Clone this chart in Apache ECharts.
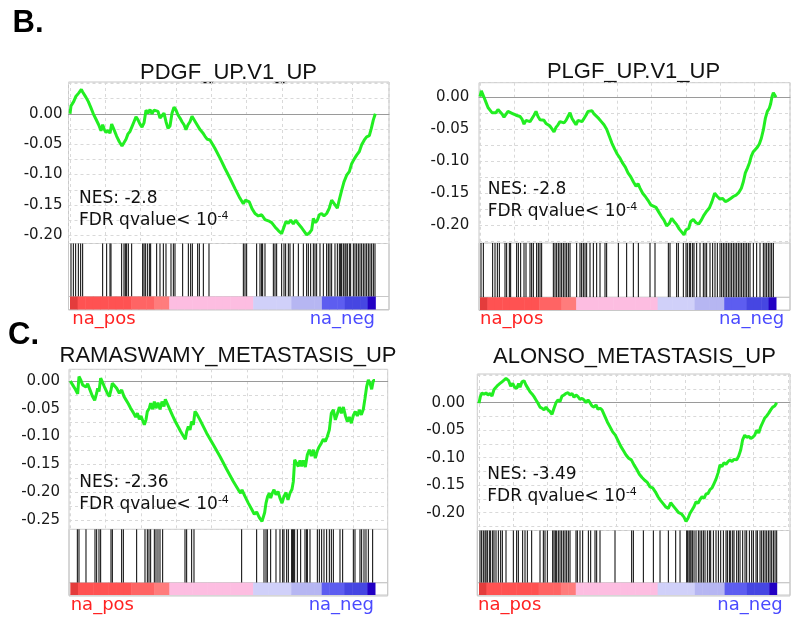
<!DOCTYPE html>
<html><head><meta charset="utf-8">
<script src="https://cdn.jsdelivr.net/npm/echarts@6/dist/echarts.min.js"></script>
<style>html,body{margin:0;padding:0;background:#fff}#c{width:793px;height:622px}</style>
</head><body><div id="c"></div>
<script>
// ---------------- DATA ----------------
const panelTitles = ['PDGF_UP.V1_UP', 'PLGF_UP.V1_UP', 'RAMASWAMY_METASTASIS_UP', 'ALONSO_METASTASIS_UP'];
const nesLabels = ['NES: -2.8', 'NES: -2.8', 'NES: -2.36', 'NES: -3.49'];
const listSizes = [916, 888, 914, 893];
const yTickLabels = ['0.00', '-0.05', '-0.10', '-0.15', '-0.20', '-0.25'];

// running enrichment score: [rank, ES]
const pdgfRunningES = [[0,0],[3,0.013],[7,0.011],[11,0.020],[15,0.023],[18,0.029],[22,0.027],[26,0.034],[30,0.036],[34,0.040],[38,0.036],[42,0.034],[48,0.027],[55,0.020],[62,0.011],[70,0.000],[78,-0.009],[86,-0.018],[93,-0.028],[98,-0.018],[103,-0.026],[108,-0.031],[114,-0.027],[120,-0.032],[125,-0.017],[132,-0.026],[140,-0.037],[148,-0.046],[156,-0.053],[162,-0.050],[168,-0.042],[174,-0.033],[180,-0.029],[186,-0.021],[192,-0.013],[198,-0.005],[204,-0.010],[210,-0.017],[216,-0.022],[222,-0.015],[228,0.006],[234,0.001],[240,0.007],[246,0.000],[252,0.006],[258,0.009],[264,0.004],[270,-0.007],[276,-0.005],[282,0.001],[288,-0.013],[294,-0.024],[300,-0.020],[306,0.001],[312,0.011],[318,0.006],[324,-0.002],[330,-0.007],[336,-0.013],[342,-0.018],[348,-0.026],[354,-0.018],[360,-0.013],[366,-0.004],[372,-0.006],[378,-0.015],[384,-0.018],[390,-0.026],[398,-0.031],[405,-0.037],[412,-0.042],[420,-0.043],[435,-0.057],[450,-0.073],[465,-0.090],[480,-0.106],[495,-0.123],[510,-0.139],[520,-0.148],[526,-0.142],[532,-0.139],[538,-0.145],[546,-0.156],[555,-0.164],[565,-0.168],[575,-0.166],[585,-0.174],[595,-0.176],[605,-0.179],[615,-0.186],[625,-0.192],[635,-0.197],[642,-0.186],[648,-0.177],[655,-0.180],[662,-0.175],[670,-0.181],[677,-0.175],[685,-0.181],[693,-0.186],[701,-0.192],[710,-0.199],[718,-0.196],[725,-0.191],[730,-0.172],[736,-0.179],[742,-0.175],[748,-0.166],[755,-0.164],[762,-0.168],[770,-0.164],[778,-0.155],[785,-0.142],[793,-0.148],[802,-0.155],[808,-0.141],[815,-0.126],[822,-0.112],[830,-0.101],[838,-0.095],[845,-0.082],[852,-0.075],[860,-0.068],[868,-0.062],[875,-0.051],[883,-0.043],[890,-0.038],[898,-0.036],[904,-0.024],[910,-0.010],[916,0.000]];

const plgfRunningES = [[0,0.001],[4,0.010],[8,0.007],[12,0.000],[18,-0.008],[24,-0.016],[30,-0.020],[36,-0.024],[42,-0.021],[48,-0.024],[54,-0.019],[60,-0.021],[66,-0.026],[72,-0.031],[78,-0.028],[84,-0.022],[90,-0.019],[96,-0.025],[102,-0.022],[108,-0.028],[114,-0.025],[120,-0.030],[126,-0.034],[132,-0.042],[138,-0.036],[144,-0.033],[150,-0.038],[156,-0.033],[162,-0.028],[168,-0.022],[174,-0.030],[180,-0.035],[186,-0.033],[192,-0.036],[198,-0.041],[204,-0.042],[210,-0.045],[216,-0.048],[222,-0.054],[228,-0.047],[234,-0.043],[240,-0.038],[246,-0.035],[252,-0.040],[258,-0.036],[264,-0.030],[270,-0.024],[276,-0.033],[282,-0.038],[288,-0.043],[294,-0.036],[300,-0.034],[306,-0.038],[312,-0.033],[318,-0.028],[324,-0.022],[330,-0.025],[336,-0.021],[342,-0.026],[348,-0.028],[356,-0.033],[364,-0.038],[372,-0.043],[380,-0.050],[388,-0.061],[396,-0.072],[404,-0.081],[412,-0.089],[420,-0.095],[428,-0.103],[436,-0.109],[444,-0.118],[452,-0.124],[460,-0.132],[468,-0.139],[474,-0.135],[480,-0.142],[488,-0.150],[496,-0.155],[504,-0.161],[512,-0.168],[520,-0.170],[528,-0.172],[536,-0.179],[544,-0.186],[552,-0.192],[560,-0.201],[568,-0.197],[575,-0.189],[582,-0.194],[590,-0.199],[598,-0.206],[606,-0.211],[612,-0.215],[618,-0.207],[626,-0.205],[632,-0.194],[640,-0.191],[648,-0.196],[656,-0.198],[664,-0.192],[672,-0.184],[680,-0.178],[688,-0.173],[696,-0.163],[704,-0.150],[712,-0.155],[720,-0.159],[728,-0.158],[736,-0.163],[744,-0.161],[752,-0.158],[760,-0.155],[768,-0.153],[776,-0.149],[784,-0.142],[790,-0.132],[796,-0.118],[802,-0.111],[808,-0.103],[814,-0.092],[820,-0.085],[826,-0.082],[832,-0.078],[838,-0.073],[844,-0.064],[850,-0.051],[856,-0.033],[862,-0.022],[868,-0.017],[872,-0.010],[876,0.001],[880,0.007],[884,0.004],[888,0.000]];

const ramaswamyRunningES = [[0,0],[7,-0.007],[15,-0.015],[22,-0.023],[26,0.008],[32,0.001],[37,-0.007],[42,-0.004],[47,-0.011],[52,-0.005],[59,-0.016],[66,-0.027],[73,-0.035],[79,-0.022],[82,-0.013],[86,-0.019],[91,0.005],[97,-0.003],[104,-0.013],[111,-0.022],[117,-0.028],[122,-0.016],[126,-0.004],[131,-0.002],[139,-0.013],[147,-0.022],[154,-0.016],[161,-0.028],[167,-0.034],[174,-0.041],[181,-0.049],[189,-0.057],[196,-0.065],[201,-0.058],[207,-0.069],[212,-0.063],[217,-0.071],[222,-0.079],[227,-0.070],[231,-0.055],[237,-0.049],[241,-0.040],[247,-0.051],[252,-0.037],[257,-0.049],[263,-0.039],[269,-0.051],[275,-0.037],[281,-0.046],[285,-0.033],[291,-0.041],[299,-0.052],[307,-0.063],[315,-0.073],[323,-0.082],[331,-0.091],[339,-0.099],[345,-0.105],[349,-0.091],[354,-0.082],[359,-0.088],[364,-0.073],[369,-0.079],[374,-0.055],[379,-0.059],[389,-0.070],[409,-0.094],[429,-0.115],[449,-0.136],[469,-0.159],[489,-0.181],[504,-0.196],[511,-0.202],[515,-0.196],[524,-0.208],[534,-0.220],[544,-0.231],[552,-0.240],[559,-0.236],[567,-0.246],[575,-0.253],[579,-0.255],[583,-0.237],[587,-0.220],[592,-0.208],[597,-0.202],[601,-0.211],[606,-0.202],[611,-0.196],[617,-0.205],[623,-0.199],[629,-0.211],[635,-0.220],[641,-0.208],[647,-0.201],[653,-0.214],[659,-0.202],[665,-0.195],[669,-0.181],[673,-0.142],[679,-0.143],[684,-0.154],[689,-0.143],[694,-0.154],[699,-0.143],[705,-0.155],[711,-0.133],[717,-0.124],[723,-0.135],[729,-0.124],[735,-0.139],[741,-0.126],[747,-0.118],[753,-0.112],[759,-0.105],[765,-0.109],[771,-0.100],[777,-0.088],[783,-0.058],[789,-0.052],[795,-0.070],[801,-0.059],[807,-0.047],[813,-0.058],[819,-0.047],[825,-0.062],[831,-0.073],[837,-0.065],[843,-0.076],[849,-0.062],[855,-0.055],[861,-0.063],[867,-0.052],[873,-0.061],[879,-0.051],[884,-0.031],[889,-0.010],[894,0.002],[899,-0.004],[904,-0.015],[909,0.001],[914,0.001]];

const alonsoRunningES = [[0,-0.001],[4,0.011],[9,0.018],[15,0.015],[21,0.018],[27,0.014],[33,0.017],[39,0.012],[45,0.024],[51,0.028],[57,0.032],[63,0.035],[69,0.038],[75,0.041],[81,0.044],[85,0.047],[89,0.040],[95,0.030],[101,0.035],[107,0.028],[113,0.026],[119,0.035],[123,0.028],[129,0.038],[135,0.040],[141,0.032],[147,0.026],[153,0.020],[159,0.016],[165,0.011],[171,0.005],[177,-0.001],[183,-0.008],[189,-0.010],[195,-0.013],[201,-0.008],[207,-0.013],[213,-0.016],[219,-0.021],[225,-0.010],[231,0.000],[237,0.005],[243,0.002],[249,0.012],[255,0.014],[261,0.017],[267,0.018],[273,0.014],[279,0.017],[285,0.010],[291,0.014],[297,0.011],[303,0.006],[309,0.008],[315,0.005],[321,0.000],[327,0.005],[333,0.000],[339,-0.006],[345,-0.008],[351,-0.004],[357,-0.012],[363,-0.010],[369,-0.013],[377,-0.024],[385,-0.035],[393,-0.044],[401,-0.053],[409,-0.059],[417,-0.069],[425,-0.079],[433,-0.087],[441,-0.095],[449,-0.101],[457,-0.104],[465,-0.113],[473,-0.121],[481,-0.130],[489,-0.136],[497,-0.141],[505,-0.145],[513,-0.153],[521,-0.155],[529,-0.162],[537,-0.171],[545,-0.178],[553,-0.184],[561,-0.190],[568,-0.192],[575,-0.182],[583,-0.188],[591,-0.194],[599,-0.200],[607,-0.202],[615,-0.208],[621,-0.216],[627,-0.210],[633,-0.201],[639,-0.195],[645,-0.189],[651,-0.180],[657,-0.183],[663,-0.176],[669,-0.171],[675,-0.174],[681,-0.166],[687,-0.165],[693,-0.158],[699,-0.155],[705,-0.147],[711,-0.139],[717,-0.128],[723,-0.113],[729,-0.116],[735,-0.109],[741,-0.112],[747,-0.107],[753,-0.104],[759,-0.107],[765,-0.103],[773,-0.104],[779,-0.097],[785,-0.086],[791,-0.067],[797,-0.059],[803,-0.063],[809,-0.061],[815,-0.065],[821,-0.063],[827,-0.059],[833,-0.050],[839,-0.055],[845,-0.044],[851,-0.036],[857,-0.028],[863,-0.024],[869,-0.019],[875,-0.013],[881,-0.008],[887,-0.006],[893,0.000]];

// positions (ranks) of gene-set members in the ranked list
const pdgfHits = [3,10,17,25,32,38,98,110,120,123,155,162,166,170,175,185,218,222,226,232,238,242,260,270,280,288,303,310,315,338,355,362,367,383,388,400,417,520,525,530,560,570,575,578,585,610,615,620,635,642,647,655,660,670,685,700,710,715,722,730,735,740,750,760,770,775,780,785,795,802,808,812,815,820,825,828,832,838,842,850,855,860,865,870,875,880,885,890,895,900,905,910,915];
const plgfHits = [3,10,38,45,52,58,75,80,88,92,110,115,122,132,138,150,155,160,170,175,180,185,220,225,230,235,240,245,250,255,260,265,270,290,300,305,310,315,320,330,340,350,360,375,380,415,440,460,475,510,525,565,570,590,595,610,618,622,628,632,638,642,650,660,670,675,680,690,698,705,712,720,725,730,735,740,745,750,755,760,765,770,775,780,785,790,795,800,805,810,820,830,840,850,855,860,865,870,875,880];
const ramaswamyHits = [21,26,47,74,79,86,91,122,126,154,159,199,224,231,236,241,252,257,263,269,277,344,349,364,371,514,559,581,587,591,601,617,629,637,641,649,654,664,667,669,673,681,691,704,709,711,719,741,747,754,761,769,777,783,789,809,817,849,854,869,874,881,887,894,907];
const alonsoHits = [3,8,13,18,21,25,31,35,41,45,51,58,65,70,81,103,113,118,131,138,145,158,183,193,198,205,221,225,229,233,238,243,248,253,258,263,268,273,291,295,303,311,328,335,348,353,363,408,458,463,493,523,543,568,590,603,623,626,630,633,636,640,645,651,658,663,668,673,678,685,691,695,703,711,718,725,733,741,745,751,755,761,765,773,778,783,791,798,803,811,818,823,831,835,843,848,853,858,863,868,873,878,883,888,893];

// ranking metric, 40 equal bins along the ranked list (na_pos -> na_neg)
const rankMetricBins = [0.9,0.5,0.5,0.5,0.5,0.5,0.5,0.5,0.3,0.3,0.3,0.15,0.15,0.05,0.05,0.05,0.05,0.05,0.05,0.05,0.05,0.05,0.05,0.05,-0.04,-0.04,-0.04,-0.04,-0.04,-0.12,-0.12,-0.12,-0.12,-0.3,-0.3,-0.3,-0.5,-0.5,-0.5,-0.9];

const runningES = [pdgfRunningES, plgfRunningES, ramaswamyRunningES, alonsoRunningES];
const hitLists = [pdgfHits, plgfHits, ramaswamyHits, alonsoHits];

// ---------------- LAYOUT ----------------
const layout = [
  {frame:[68.5,82,389,310], x0:70, x1:375.33, zeroY:113.8, scale:608, lineBottom:243.5, gradTop:296.5, gradBottom:309.5, step:106, margin:6,
   titleX:228.5, titleBase:80, nesX:79, nesBase:204, fdrBase:226, posX:72.3, negX:375, labBase:325.2},
  {frame:[479,82.7,790,310.5], x0:480, x1:776, zeroY:97.3, scale:640, lineBottom:243, gradTop:297.3, gradBottom:310, step:103, margin:9.7,
   titleX:633.5, titleBase:78.3, nesX:487.7, nesBase:195, fdrBase:216.7, posX:480, negX:784.3, labBase:325.2},
  {frame:[69,369.3,387.7,596], x0:70.33, x1:375, zeroY:381, scale:555, lineBottom:529.3, gradTop:582.7, gradBottom:595, step:106, margin:9,
   titleX:228, titleBase:362.3, nesX:79.3, nesBase:488.3, fdrBase:510, posX:70.7, negX:374, labBase:610.8},
  {frame:[477.3,374,790,596], x0:479, x1:776.7, zeroY:402.7, scale:550, lineBottom:530.5, gradTop:582.7, gradBottom:595, step:103, margin:12.3,
   titleX:634.5, titleBase:363.3, nesX:487.3, nesBase:480, fdrBase:501.7, posX:478, negX:782.7, labBase:610.8}
];

const SANS = 'DejaVu Sans';
const ARIAL = 'Liberation Sans';
const grids = [], xAxes = [], yAxes = [], series = [], graphics = [], gradSeriesIdx = [];
const mid = (base, fs) => base - 0.31 * fs;

layout.forEach((L, i) => {
  const [fl, ft, fr, fb] = L.frame;
  const n = listSizes[i];
  const perPx = n / (L.x1 - L.x0);
  const xMin = -(L.x0 - fl) * perPx, xMax = (fr - L.x0) * perPx;
  const yMax = (L.zeroY - ft) / L.scale, yMin = -(L.lineBottom - L.zeroY) / L.scale;
  const g = grids.length;
  // frame
  grids.push({left: fl, top: ft, width: fr - fl, height: fb - ft, show: true, borderColor: '#c8c8c8', borderWidth: 1, backgroundColor: 'transparent'});
  xAxes.push({gridIndex: g, type: 'value', show: false, min: 0, max: 1});
  yAxes.push({gridIndex: g, type: 'value', show: false, min: 0, max: 1});
  // running ES plot
  grids.push({left: fl, top: ft, width: fr - fl, height: L.lineBottom - ft, show: false});
  xAxes.push({gridIndex: g + 1, type: 'value', min: xMin, max: xMax, minInterval: L.step, maxInterval: L.step,
    axisLine: {show: true, onZero: true, lineStyle: {color: '#9a9a9a', width: 1}},
    axisTick: {show: false}, axisLabel: {show: false},
    splitLine: {show: true, lineStyle: {color: '#d9d9d9', width: 1, type: [3, 3]}}});
  yAxes.push({gridIndex: g + 1, type: 'value', min: yMin, max: yMax, minInterval: 0.025, maxInterval: 0.025,
    axisLine: {show: false}, axisTick: {show: false},
    splitLine: {show: true, lineStyle: {color: '#d9d9d9', width: 1, type: [3, 3]}},
    axisLabel: {margin: L.margin, fontFamily: SANS, fontSize: 15, color: '#1a1a1a',
      formatter: v => { const k = Math.round(v * 1000); if (k > 0 || k % 50 !== 0) return ''; const idx = -k / 50; return yTickLabels[idx] || ''; }}});
  series.push({type: 'line', xAxisIndex: g + 1, yAxisIndex: g + 1, data: runningES[i], showSymbol: false, symbol: 'none',
    lineStyle: {color: '#22ee22', width: 3}, silent: true, z: 5});
  // barcode
  grids.push({left: fl, top: L.lineBottom, width: fr - fl, height: L.gradTop - L.lineBottom, show: true, borderColor: '#c8c8c8', borderWidth: 1, backgroundColor: 'transparent'});
  xAxes.push({gridIndex: g + 2, type: 'value', show: false, min: xMin, max: xMax});
  yAxes.push({gridIndex: g + 2, type: 'value', show: false, min: 0, max: 1});
  series.push({type: 'custom', xAxisIndex: g + 2, yAxisIndex: g + 2, silent: true,
    data: hitLists[i].map(r => [r, 1]), encode: {x: 0, y: 1},
    renderItem: (params, api) => {
      const p0 = api.coord([api.value(0), 0]);
      const p1 = api.coord([api.value(0), 1]);
      return {type: 'line', shape: {x1: p0[0], y1: p0[1], x2: p1[0], y2: p1[1]}, style: {stroke: '#000', lineWidth: 1}};
    }});
  // ranking metric colour strip
  grids.push({left: fl, top: L.gradTop, width: fr - fl, height: L.gradBottom - L.gradTop, show: true, borderColor: '#c8c8c8', borderWidth: 1, backgroundColor: 'transparent'});
  xAxes.push({gridIndex: g + 3, type: 'value', show: false, min: xMin, max: xMax});
  yAxes.push({gridIndex: g + 3, type: 'value', show: false, min: 0, max: 1});
  gradSeriesIdx.push(series.length);
  const nb = rankMetricBins.length;
  series.push({type: 'custom', xAxisIndex: g + 3, yAxisIndex: g + 3, silent: true,
    data: rankMetricBins.map((m, k) => [k * n / nb, (k + 1) * n / nb, m]), encode: {x: [0, 1], y: 2},
    renderItem: (params, api) => {
      const a = api.coord([api.value(0), 1]);
      const b = api.coord([api.value(1), 0]);
      return {type: 'rect', shape: {x: a[0], y: a[1], width: b[0] - a[0] + 0.5, height: b[1] - a[1]}, style: {fill: api.visual('color')}};
    }});
  // texts
  graphics.push({type: 'text', x: L.titleX, y: mid(L.titleBase, 22), style: {text: panelTitles[i], fontFamily: ARIAL, fontSize: 22, fill: '#111', align: 'center', verticalAlign: 'middle', textAlign: 'center', textVerticalAlign: 'middle'}});
  graphics.push({type: 'text', x: L.nesX, y: mid(L.nesBase, 17), z: 10, style: {text: nesLabels[i], fontFamily: SANS, fontSize: 17, fill: '#111', align: 'left', verticalAlign: 'middle', textAlign: 'left', textVerticalAlign: 'middle'}});
  graphics.push({type: 'text', x: L.nesX, y: mid(L.fdrBase, 17), z: 10, style: {text: '{m|FDR qvalue< 10}{s|-4}', fill: '#111', align: 'left', verticalAlign: 'middle', textAlign: 'left', textVerticalAlign: 'middle',
    rich: {m: {fontFamily: SANS, fontSize: 17, lineHeight: 20, fill: '#111'}, s: {fontFamily: SANS, fontSize: 11, lineHeight: 20, verticalAlign: 'top', fill: '#111'}}}});
  graphics.push({type: 'text', x: L.posX, y: mid(L.labBase, 18), style: {text: 'na_pos', fontFamily: SANS, fontSize: 18, fill: '#ff2222', align: 'left', verticalAlign: 'middle', textAlign: 'left', textVerticalAlign: 'middle'}});
  graphics.push({type: 'text', x: L.negX, y: mid(L.labBase, 18), style: {text: 'na_neg', fontFamily: SANS, fontSize: 18, fill: '#4a4aff', align: 'right', verticalAlign: 'middle', textAlign: 'right', textVerticalAlign: 'middle'}});
});

graphics.push({type: 'text', x: 12.5, y: mid(33.3, 31), style: {text: 'B.', fontFamily: ARIAL, fontWeight: 'bold', fontSize: 31, fill: '#000', align: 'left', verticalAlign: 'middle', textAlign: 'left', textVerticalAlign: 'middle'}});
graphics.push({type: 'text', x: 8, y: mid(345, 31), style: {text: 'C.', fontFamily: ARIAL, fontWeight: 'bold', fontSize: 31, fill: '#000', align: 'left', verticalAlign: 'middle', textAlign: 'left', textVerticalAlign: 'middle'}});

const option = {
  animation: false,
  backgroundColor: '#ffffff',
  textStyle: {fontFamily: SANS},
  grid: grids.map(gr => Object.assign({outerBoundsMode: 'none', containLabel: false}, gr)),
  xAxis: xAxes,
  yAxis: yAxes,
  visualMap: {type: 'piecewise', show: false, dimension: 2, seriesIndex: gradSeriesIdx,
    pieces: [
      {gt: 0.7, color: '#e43c3c'},
      {gt: 0.35, lte: 0.7, color: '#ff5252'},
      {gt: 0.2, lte: 0.35, color: '#ff6464'},
      {gt: 0.1, lte: 0.2, color: '#ff7c7c'},
      {gt: 0, lte: 0.1, color: '#fdbde1'},
      {gt: -0.08, lte: 0, color: '#d0d0f9'},
      {gt: -0.2, lte: -0.08, color: '#b6b6f2'},
      {gt: -0.4, lte: -0.2, color: '#5d5df0'},
      {gt: -0.7, lte: -0.4, color: '#4646e2'},
      {lte: -0.7, color: '#2200c4'}
    ]},
  series: series,
  graphic: {elements: graphics}
};
const chart = echarts.init(document.getElementById('c'), null, {renderer: 'canvas'});
chart.setOption(option);
</script></body></html>
